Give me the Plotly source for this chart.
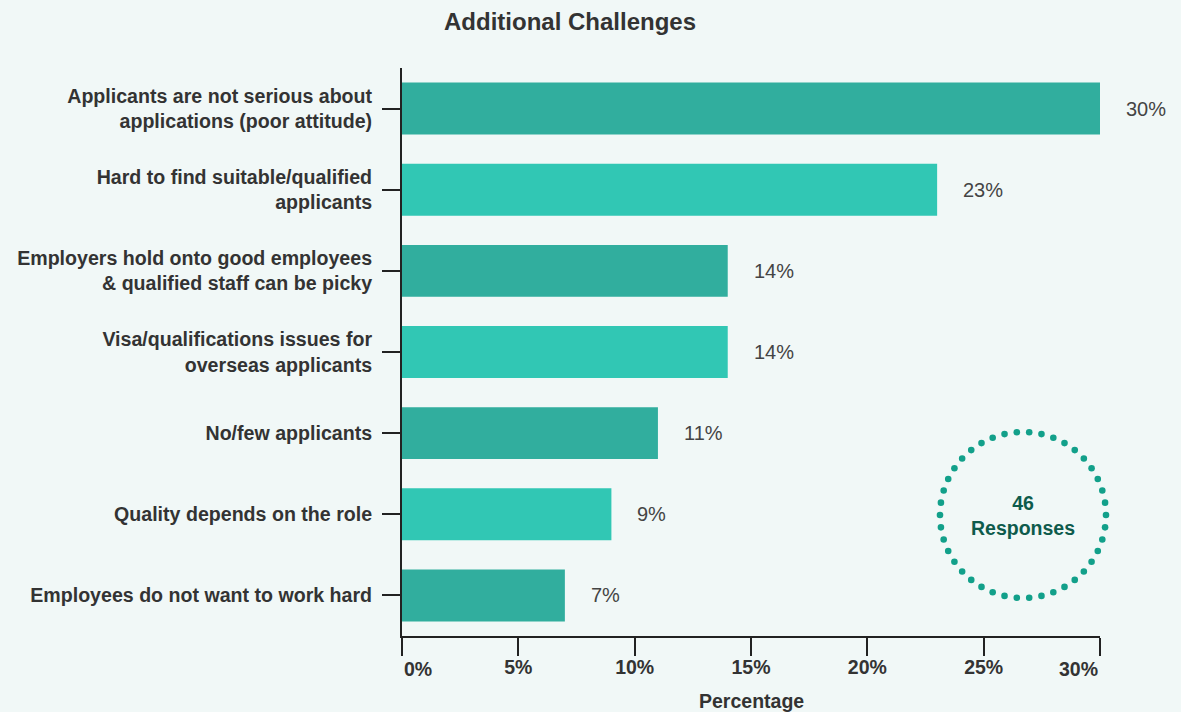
import numpy as np
import plotly.graph_objects as go

# Survey results: share of respondents naming each challenge
categories = [
    "Applicants are not serious about<br>applications (poor attitude)",
    "Hard to find suitable/qualified<br>applicants",
    "Employers hold onto good employees<br>& qualified staff can be picky",
    "Visa/qualifications issues for<br>overseas applicants",
    "No/few applicants",
    "Quality depends on the role",
    "Employees do not want to work hard",
]
percentages = [30, 23, 14, 14, 11, 9, 7]
x_ticks = [0, 5, 10, 15, 20, 25, 30]
x_tick_labels = ["0%", "5%", "10%", "15%", "20%", "25%", "30%"]
responses = 46

DARK = "#31ae9e"
LIGHT = "#31c7b4"
BG = "#f1f8f7"
TEXT = "#333333"
FONT = "Liberation Sans, Arial"

bar_colors = [DARK if i % 2 == 0 else LIGHT for i in range(len(categories))]

# plot area in pixels
ML, MT, MB, MR = 402, 68, 76, 81
W, H = 1181, 712
plot_w, plot_h = W - ML - MR, H - MT - MB

fig = go.Figure()
fig.add_trace(go.Bar(
    x=percentages,
    y=categories,
    orientation="h",
    marker=dict(color=bar_colors, line=dict(width=0)),
    width=0.64,
    hoverinfo="x+y",
    showlegend=False,
))

# value labels to the right of each bar
for cat, val in zip(categories, percentages):
    fig.add_annotation(
        x=val, y=cat, text=f"{val}%", showarrow=False,
        xanchor="left", xshift=24,
        font=dict(family=FONT, size=20, color="#444444"),
    )

# end tick labels are kept inside the axis span
tick_font = dict(family=FONT, size=19.5, color=TEXT, weight="bold")
inner_labels = [t if 0 < i < len(x_tick_labels) - 1 else "" for i, t in enumerate(x_tick_labels)]
fig.add_annotation(x=x_ticks[0], y=0, xref="x", yref="paper", text=x_tick_labels[0],
                   showarrow=False, xanchor="left", yanchor="middle", yshift=-33, font=tick_font)
fig.add_annotation(x=x_ticks[-1], y=0, xref="x", yref="paper", text=x_tick_labels[-1],
                   showarrow=False, xanchor="right", yanchor="middle", yshift=-33, font=tick_font)

# axis title placed below the tick labels
fig.add_annotation(x=0.5, y=0, xref="paper", yref="paper", text="<b>Percentage</b>",
                   showarrow=False, xanchor="center", yanchor="middle", yshift=-65,
                   font=dict(family=FONT, size=19.5, color=TEXT))

# dotted badge: a ring of small round dots, positioned in paper units
cx_px, cy_px, r_px = 1023, 515, 83
n_dots = 42
dot_r = 3.3
theta = np.linspace(0, 2 * np.pi, n_dots, endpoint=False)
for t in theta:
    px = cx_px + r_px * np.cos(t)
    py = cy_px + r_px * np.sin(t)
    fig.add_shape(
        type="circle", xref="paper", yref="paper",
        x0=(px - dot_r - ML) / plot_w, x1=(px + dot_r - ML) / plot_w,
        y0=(H - MB - (py + dot_r)) / plot_h, y1=(H - MB - (py - dot_r)) / plot_h,
        fillcolor="#12a08a", line=dict(width=0), layer="above",
    )
fig.add_annotation(
    x=(cx_px - ML) / plot_w, y=(H - MB - cy_px) / plot_h, xref="paper", yref="paper",
    xanchor="center", yanchor="middle",
    text=f"<b>{responses}</b><br><b>Responses</b>", showarrow=False,
    font=dict(family=FONT, size=19.5, color="#0e5b4c"),
    align="center",
)

fig.update_layout(
    width=W, height=H,
    paper_bgcolor=BG, plot_bgcolor=BG,
    margin=dict(l=ML, r=MR, t=MT, b=MB, autoexpand=False),
    title=dict(
        text="<b>Additional Challenges</b>",
        x=570 / W, xanchor="center", y=1 - 22 / H, yanchor="middle",
        font=dict(family=FONT, size=24, color=TEXT),
    ),
    xaxis=dict(
        range=[0, 30], tickvals=x_ticks, ticktext=inner_labels,
        showgrid=False, zeroline=False,
        showline=True, linecolor="#222222", linewidth=2,
        ticks="outside", ticklen=18, tickwidth=2, tickcolor="#222222",
        tickfont=tick_font, ticklabelstandoff=-5, automargin=False,
        fixedrange=True,
    ),
    yaxis=dict(
        categoryorder="array", categoryarray=categories[::-1],
        range=[-0.5, len(categories) - 0.5],
        showgrid=False, zeroline=False,
        showline=True, linecolor="#222222", linewidth=2,
        ticks="outside", ticklen=18, tickwidth=2, tickcolor="#222222",
        tickfont=dict(family=FONT, size=19.6, color=TEXT, weight="bold"),
        ticklabelstandoff=6, automargin=False,
        fixedrange=True,
    ),
    bargap=0.36,
)

fig.write_html("out.html")
